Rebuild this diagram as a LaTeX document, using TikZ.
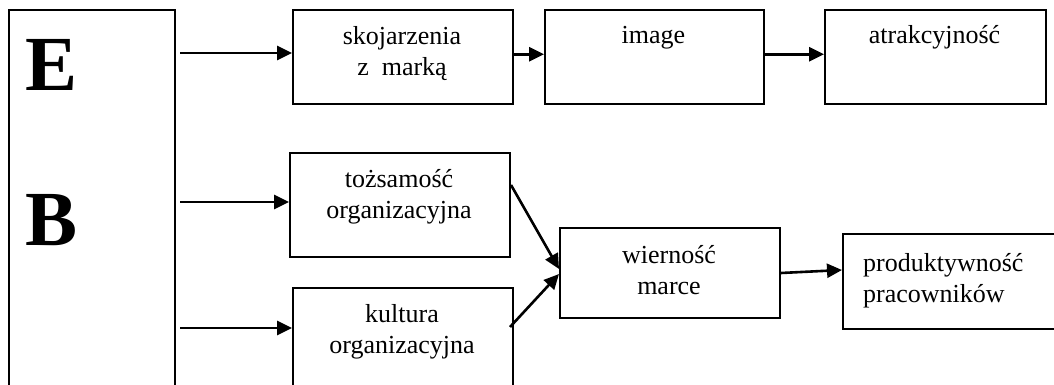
\documentclass[tikz,border=0pt]{standalone}
\usepackage{fontspec}
\setmainfont{Liberation Serif}
\usetikzlibrary{arrows.meta}
\begin{document}
\begin{tikzpicture}[x=1pt,y=1pt,
  box/.style={draw, line width=2pt, anchor=north west, inner sep=0pt},
  lbl/.style={font=\fontsize{26}{31}\selectfont, align=center, inner sep=0pt, anchor=base},
  big/.style={font=\fontsize{78}{80}\selectfont\bfseries, inner sep=0pt, anchor=base},
  arr/.style={line width=2.6pt, -{Triangle[length=15pt,width=14pt]}}]
\useasboundingbox (0,0) rectangle (1054,-385);
\clip (0,0) rectangle (1054,-385);
% boxes
\node[box, minimum width=166pt, minimum height=420pt] (eb) at (8,-9.5) {};
\node[box, minimum width=220pt, minimum height=93.5pt] (skoj) at (292,-9.5) {};
\node[box, minimum width=219pt, minimum height=93.5pt] (image) at (544,-9.5) {};
\node[box, minimum width=221pt, minimum height=93.5pt] (atrak) at (824,-9.5) {};
\node[box, minimum width=220pt, minimum height=104pt] (tozs) at (289,-152) {};
\node[box, minimum width=220pt, minimum height=140pt] (kult) at (292,-287) {};
\node[box, minimum width=220pt, minimum height=90pt] (wier) at (559,-227) {};
\node[box, minimum width=250pt, minimum height=95pt] (prod) at (842,-233) {};
% texts (base anchor = baseline of the last line)
\node[big] (eT) at (52,-91) {E};
\node[big] (bT) at (52,-245) {B};
\node[lbl] (skojT) at (402,-76) {skojarzenia\\z\ \ marką};
\node[lbl] (imageT) at (653.5,-44) {image};
\node[lbl] (atrakT) at (934.5,-44) {atrakcyjność};
\node[lbl] (tozsT) at (399,-218) {tożsamość\\organizacyjna};
\node[lbl] (kultT) at (402,-353) {kultura\\organizacyjna};
\node[lbl] (wierT) at (669,-294) {wierność\\marce};
\node[lbl, align=left, anchor=base west] (prodT) at (863,-302) {produktywność\\pracowników};
% free start points
\coordinate (s1) at (180,-53);
\coordinate (s2) at (180,-202);
\coordinate (s3) at (180,-328);
% arrows
\draw[arr] (s1) -- (skoj.west |- s1);
\draw[arr] ([yshift=3pt]skoj.east) -- ([yshift=3pt]image.west);
\draw[arr] ([yshift=3pt]image.east) -- ([yshift=3pt]atrak.west);
\draw[arr] (s2) -- (tozs.west |- s2);
\draw[arr] (s3) -- (kult.west |- s3);
\draw[arr] ([yshift=-33pt]tozs.north east) -- ([yshift=4pt]wier.west);
\draw[arr] ([xshift=-4pt,yshift=-40pt]kult.north east) -- ([yshift=-1pt]wier.west);
\draw[arr] (wier.east) -- ([yshift=11.5pt]prod.west);
\end{tikzpicture}
\end{document}
